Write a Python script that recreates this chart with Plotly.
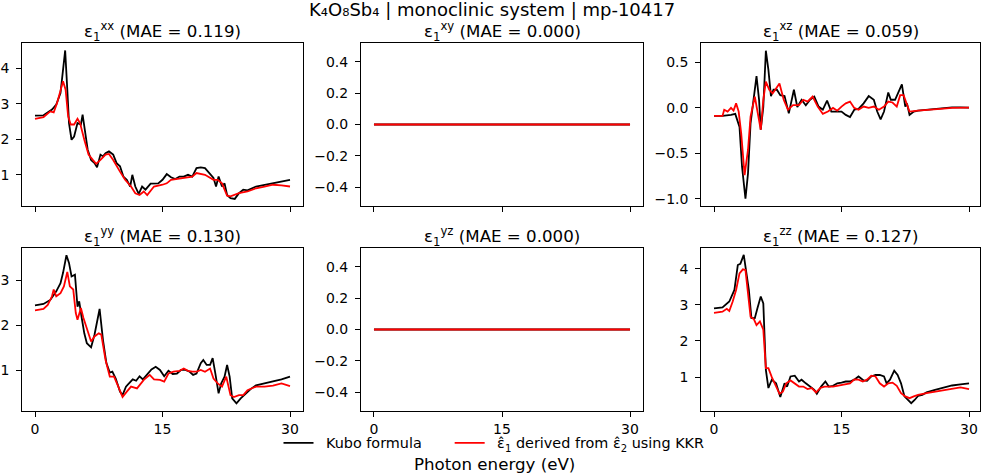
import plotly.graph_objects as go

W, H = 981, 476

# ---- eps_1^xx ----
E_xx_kubo = [0, 1, 2, 2.5, 3, 3.3, 3.55, 3.8, 4.0, 4.3, 4.6, 5.0, 5.4, 5.6, 5.9, 6.2, 6.6, 7.0, 7.3, 7.7,
             8.0, 8.3, 8.7, 9.2, 9.6, 10.0, 10.4, 10.8, 11.2, 11.45, 11.8, 12.2, 12.6, 13.0, 13.6, 14.5, 15.0,
             15.5, 16.0, 16.5, 17.0, 17.5, 18.0, 18.5, 19.0, 19.5, 20.0, 20.5, 21.0, 21.3, 21.6, 22.0, 22.3,
             22.6, 23.0, 23.5, 24.0, 24.5, 25.0, 26.0, 27.0, 28.0, 29.0, 30.0]
eps_xx_kubo = [2.67, 2.68, 2.84, 2.98, 3.31, 3.88, 4.51, 3.40, 2.46, 1.99, 2.08, 2.46, 2.42, 2.70, 2.18, 1.71,
               1.42, 1.33, 1.21, 1.57, 1.52, 1.61, 1.66, 1.57, 1.33, 1.24, 0.95, 0.86, 0.67, 1.00, 0.67, 0.46,
               0.67, 0.58, 0.75, 0.76, 0.86, 1.02, 0.93, 0.88, 0.95, 0.95, 1.00, 0.95, 1.19, 1.21, 1.19, 1.05,
               0.91, 0.67, 0.95, 0.67, 0.76, 0.43, 0.34, 0.32, 0.48, 0.58, 0.56, 0.67, 0.72, 0.78, 0.81, 0.86]
E_xx_kkr = [0, 1, 1.8, 2.2, 2.6, 3.0, 3.3, 3.6, 3.9, 4.2, 4.6, 5.0, 5.3, 5.8, 6.3, 6.8, 7.2, 7.7, 8.3, 8.7,
            9.2, 10.0, 10.6, 11.3, 11.8, 12.3, 12.8, 13.2, 14.0, 15.0, 15.5, 16.0, 17.0, 18.0, 18.5, 19.0,
            20.0, 21.0, 21.5, 22.0, 22.6, 23.0, 24.0, 25.0, 26.0, 27.0, 28.0, 29.0, 30.0]
eps_xx_kkr = [2.58, 2.63, 2.79, 2.76, 3.03, 3.40, 3.64, 3.40, 2.65, 2.42, 2.42, 2.58, 2.46, 1.99, 1.57, 1.42,
              1.31, 1.42, 1.57, 1.59, 1.42, 1.09, 0.86, 0.67, 0.48, 0.43, 0.53, 0.43, 0.67, 0.72, 0.76, 0.86,
              0.90, 0.93, 0.95, 1.05, 1.00, 0.86, 0.86, 0.76, 0.41, 0.39, 0.48, 0.53, 0.62, 0.67, 0.72, 0.70,
              0.67]

# ---- eps_1^xz ----
E_xz_kubo = [0, 1, 2, 2.5, 3, 3.3, 3.7, 4.0, 4.3, 4.6, 5.0, 5.3, 5.5, 5.8, 6.1, 6.4, 6.7, 7.0, 7.4, 7.8,
             8.3, 8.8, 9.4, 9.8, 10.3, 10.8, 11.3, 11.8, 12.3, 12.8, 13.3, 13.8, 14.5, 15.0, 15.5, 16.0,
             16.5, 17.0, 17.6, 18.2, 18.8, 19.2, 19.6, 20.0, 20.5, 20.8, 21.3, 21.8, 22.1, 22.5, 22.7, 23.0,
             23.5, 24, 25, 26, 27, 28, 29, 30]
eps_xz_kubo = [-0.088, -0.088, -0.077, -0.066, -0.21, -0.65, -1.00, -0.72, -0.17, 0.05, 0.35, 0.09, -0.24,
               0.01, 0.63, 0.42, 0.13, 0.20, 0.20, 0.14, 0.13, -0.06, 0.20, 0.01, 0.09, 0.03, 0.09, 0.125,
               0.015, -0.02, 0.08, -0.04, -0.04, -0.04, -0.077, -0.10, -0.02, -0.01, 0.05, 0.13, 0.09, -0.04,
               -0.125, -0.04, 0.17, 0.09, 0.09, 0.20, 0.26, 0.015, 0.05, -0.077, -0.04, -0.03, -0.02, -0.01,
               0.0, 0.007, 0.007, 0.004]
E_xz_kkr = [0, 1, 1.2, 1.6, 2.0, 2.3, 2.6, 2.9, 3.2, 3.6, 4.0, 4.3, 4.8, 5.2, 5.5, 5.8, 6.1, 6.5, 6.9, 7.2,
            7.7, 8.2, 8.7, 9.3, 10.0, 10.5, 11.0, 11.6, 12.2, 12.8, 13.4, 14.0, 14.5, 15.0, 15.5, 16.0, 16.5,
            17.0, 17.6, 18.2, 18.8, 19.4, 20.0, 20.5, 21.0, 21.5, 21.9, 22.3, 22.7, 23.0, 24, 25, 26, 27,
            28, 29, 30]
eps_xz_kkr = [-0.088, -0.088, -0.02, -0.04, 0.0, -0.03, 0.05, -0.04, -0.28, -0.74, -0.46, -0.096, 0.125,
              -0.096, -0.24, 0.09, 0.29, 0.20, 0.16, 0.20, 0.27, 0.09, -0.02, 0.03, 0.03, 0.09, 0.07, 0.125,
              0.015, -0.066, -0.04, 0.0, -0.03, 0.015, 0.05, 0.07, 0.0, -0.02, 0.015, 0.0, 0.015, -0.02,
              0.015, 0.07, 0.06, 0.015, 0.14, 0.14, 0.03, -0.04, -0.03, -0.02, -0.01, -0.007, 0.0, 0.004,
              0.004]

# ---- eps_1^yy ----
E_yy_kubo = [0, 1, 1.8, 2.5, 3.0, 3.3, 3.7, 4.0, 4.3, 4.7, 5.0, 5.2, 5.5, 5.8, 6.1, 6.6, 7.0, 7.4, 7.6, 8.0,
             8.4, 8.8, 9.1, 9.5, 10.0, 10.3, 10.7, 11.0, 11.5, 11.9, 12.3, 12.7, 13.2, 13.7, 14.2, 14.7,
             15.2, 15.7, 16.2, 16.7, 17.2, 17.7, 18.2, 18.6, 19.0, 19.5, 19.8, 20.2, 20.6, 20.9, 21.2, 21.6,
             21.9, 22.3, 22.6, 22.9, 23.2, 23.7, 24.2, 24.8, 25.4, 26, 27, 28, 29, 30]
eps_yy_kubo = [2.44, 2.47, 2.56, 2.75, 2.93, 3.16, 3.55, 3.38, 3.08, 3.12, 2.41, 2.53, 2.16, 1.82, 1.60, 1.51,
               1.79, 2.19, 2.36, 1.67, 1.16, 0.95, 0.97, 0.82, 0.53, 0.45, 0.64, 0.70, 0.80, 0.77, 0.87,
               0.80, 0.90, 1.02, 1.08, 1.01, 0.87, 0.99, 0.92, 0.93, 1.01, 1.01, 0.97, 0.90, 0.93, 1.16,
               1.23, 1.12, 1.12, 1.27, 0.95, 0.49, 0.71, 0.86, 1.12, 0.86, 0.38, 0.27, 0.38, 0.49, 0.59,
               0.67, 0.71, 0.75, 0.80, 0.86]
E_yy_kkr = [0, 1, 1.5, 2.0, 2.2, 2.5, 3.0, 3.4, 3.8, 4.1, 4.5, 4.8, 5.0, 5.4, 5.7, 6.1, 6.6, 7.0, 7.5, 7.8,
            8.3, 8.8, 9.3, 9.8, 10.3, 10.8, 11.3, 12.0, 12.8, 13.5, 14.0, 14.7, 15.2, 15.7, 16.3, 17.0,
            17.5, 18.0, 18.5, 19.0, 19.5, 20.0, 20.6, 21.0, 21.5, 22.0, 22.5, 23.0, 23.4, 24.0, 24.5, 25,
            26, 27, 28, 29, 30]
eps_yy_kkr = [2.33, 2.36, 2.45, 2.64, 2.79, 2.64, 2.71, 2.86, 3.18, 2.86, 2.79, 2.27, 2.12, 2.38, 2.16, 1.93,
              1.64, 1.75, 1.82, 1.79, 1.23, 0.86, 0.86, 0.64, 0.41, 0.53, 0.64, 0.60, 0.79, 0.90, 0.80,
              0.79, 0.75, 0.93, 0.97, 0.99, 1.04, 0.99, 0.97, 0.97, 1.01, 0.97, 1.04, 0.82, 0.71, 0.64,
              0.86, 0.45, 0.41, 0.45, 0.45, 0.56, 0.64, 0.64, 0.66, 0.71, 0.65]

# ---- eps_1^zz ----
E_zz_kubo = [0, 1, 1.8, 2.4, 2.8, 3.1, 3.5, 3.8, 4.1, 4.4, 4.8, 5.1, 5.5, 5.8, 6.1, 6.4, 6.8, 7.3, 7.6, 7.8,
             8.3, 8.6, 9.0, 9.5, 10.0, 10.3, 10.8, 11.3, 11.8, 12.1, 12.6, 13.1, 13.5, 14.0, 14.5, 15.0,
             15.5, 16.0, 16.5, 17.0, 17.6, 18.0, 18.5, 19.0, 19.5, 20.0, 20.3, 20.7, 21.2, 21.6, 22.0, 22.4,
             22.8, 23.2, 23.6, 24.0, 24.5, 25, 26, 27, 28, 29, 30]
eps_zz_kubo = [2.90, 2.93, 3.09, 3.41, 4.10, 4.13, 4.38, 3.87, 3.41, 2.63, 2.63, 2.90, 3.23, 3.04, 1.20, 0.70,
               0.93, 0.83, 0.56, 0.45, 0.83, 0.74, 1.02, 1.04, 0.88, 0.93, 0.83, 0.74, 0.65, 0.54, 0.74,
               0.88, 0.74, 0.76, 0.83, 0.85, 0.88, 0.88, 0.93, 1.02, 0.91, 0.90, 1.02, 1.06, 1.06, 1.02,
               0.83, 0.93, 1.18, 1.06, 0.83, 0.47, 0.37, 0.28, 0.37, 0.48, 0.51, 0.58, 0.65, 0.72, 0.77,
               0.80, 0.83]
E_zz_kkr = [0, 1, 1.5, 1.8, 2.2, 2.6, 3.0, 3.4, 3.7, 4.0, 4.3, 4.7, 5.0, 5.4, 5.8, 6.1, 6.4, 6.8, 7.3, 7.7,
            8.1, 8.5, 9.0, 9.5, 10.0, 10.5, 11.0, 11.5, 12.0, 12.5, 13.0, 14.0, 15.0, 16.0, 16.5, 17.0,
            17.5, 18.0, 18.5, 19.0, 19.5, 20.0, 20.5, 21.0, 21.5, 22.0, 22.5, 23.0, 23.5, 24, 25, 26, 27,
            28, 29, 30]
eps_zz_kkr = [2.78, 2.81, 2.89, 2.83, 3.09, 3.41, 3.87, 3.98, 3.96, 3.23, 2.67, 2.60, 2.44, 2.54, 2.31, 1.25,
              1.25, 1.00, 0.74, 0.54, 0.60, 0.83, 0.91, 0.83, 0.74, 0.74, 0.67, 0.70, 0.58, 0.70, 0.74,
              0.74, 0.79, 0.83, 0.94, 0.93, 0.88, 0.93, 1.04, 1.02, 0.83, 0.74, 0.83, 0.85, 0.76, 0.56,
              0.47, 0.42, 0.47, 0.51, 0.56, 0.60, 0.65, 0.70, 0.72, 0.67]

# ---- off-diagonal components that vanish ----
E_zero = [0, 30]
eps_xy_kubo = [0.0, 0.0]
eps_xy_kkr = [0.0, 0.0]
eps_yz_kubo = [0.0, 0.0]
eps_yz_kkr = [0.0, 0.0]

components = ["xx", "xy", "xz", "yy", "yz", "zz"]
mae_values = [0.119, 0.000, 0.059, 0.130, 0.000, 0.127]
x_ticks = [0, 15, 30]

series = {
    "xx": (E_xx_kubo, eps_xx_kubo, E_xx_kkr, eps_xx_kkr),
    "xy": (E_zero, eps_xy_kubo, E_zero, eps_xy_kkr),
    "xz": (E_xz_kubo, eps_xz_kubo, E_xz_kkr, eps_xz_kkr),
    "yy": (E_yy_kubo, eps_yy_kubo, E_yy_kkr, eps_yy_kkr),
    "yz": (E_zero, eps_yz_kubo, E_zero, eps_yz_kkr),
    "zz": (E_zz_kubo, eps_zz_kubo, E_zz_kkr, eps_zz_kkr),
}

# axis geometry (pixels)
col_px = [(22.25, 302.75, [-1.5, 31.5]), (361, 643, [-1.52, 31.52]), (701.25, 980, [-1.5, 31.29])]
row_px = [(43, 206), (248, 411)]
y_setup = {
    "xx": ([0.12, 4.72], [1, 2, 3, 4], ["1", "2", "3", "4"]),
    "xy": ([-0.52, 0.52], [-0.4, -0.2, 0, 0.2, 0.4], ["\u22120.4", "\u22120.2", "0.0", "0.2", "0.4"]),
    "xz": ([-1.08, 0.715], [-1.0, -0.5, 0, 0.5], ["\u22121.0", "\u22120.5", "0.0", "0.5"]),
    "yy": ([0.1, 3.71], [1, 2, 3], ["1", "2", "3"]),
    "yz": ([-0.52, 0.52], [-0.4, -0.2, 0, 0.2, 0.4], ["\u22120.4", "\u22120.2", "0.0", "0.2", "0.4"]),
    "zz": ([0.065, 4.57], [1, 2, 3, 4], ["1", "2", "3", "4"]),
}

FONT = "DejaVu Sans"
TITLE_SIZE = 16.67
LINE_W = 1.8


def py(px):
    """pixel row (from top) -> paper y"""
    return (H - px) / H


def label(text, x, y, size, xanchor="center", yanchor="middle"):
    return dict(text=text, x=x / W, y=py(y), xref="paper", yref="paper", xanchor=xanchor,
                yanchor=yanchor, showarrow=False, borderpad=0,
                font=dict(family=FONT, size=size, color="black"))


fig = go.Figure()
annotations = []
for i, comp in enumerate(components):
    r, c = divmod(i, 3)
    ax = "" if i == 0 else str(i + 1)
    x0, x1, xr = col_px[c]
    top, bot = row_px[r]
    ek, vk, er, vr = series[comp]
    fig.add_trace(go.Scatter(x=ek, y=vk, mode="lines", line=dict(color="black", width=LINE_W),
                             name="\u00a0\u2009Kubo formula" + "\u00a0" * 5, showlegend=(i == 0),
                             xaxis="x" + ax, yaxis="y" + ax))
    fig.add_trace(go.Scatter(x=er, y=vr, mode="lines", line=dict(color="red", width=LINE_W),
                             name="\u00a0\u2009\u03b5\u0302<sub>1</sub> derived from "
                                  "\u03b5\u0302<sub>2</sub> using KKR",
                             showlegend=(i == 0), xaxis="x" + ax, yaxis="y" + ax))
    yr, yt, ytt = y_setup[comp]
    common = dict(showgrid=False, zeroline=False, showline=True, mirror=True, linecolor="black",
                  linewidth=1, ticks="outside", ticklen=5, tickwidth=1, tickcolor="black",
                  tickfont=dict(family=FONT, size=14, color="black"))
    fig.update_layout(**{
        "xaxis" + ax: dict(domain=[x0 / W, x1 / W], range=xr, anchor="y" + ax,
                           tickvals=x_ticks, ticktext=[str(t) for t in x_ticks],
                           showticklabels=(r == 1), **common),
        "yaxis" + ax: dict(domain=[(H - bot) / H, (H - top) / H], range=yr, anchor="x" + ax,
                           tickvals=yt, ticktext=ytt, ticklabelstandoff=4, **common),
    })

    # panel title, baseline about 5.5 px above the frame
    cx = (x0 + x1) / 2
    annotations.append(label("\u03b5<sub>1</sub><sup>%s</sup> (MAE = %.3f)" % (comp, mae_values[i]),
                             cx, top - 5.5 - 5.8, TITLE_SIZE))

annotations.append(label("K\u2084O\u2088Sb\u2084 | monoclinic system | mp-10417", 492, 9.8, 18))
annotations.append(label("Photon energy (eV)", 494, 464, 16.67))

fig.update_layout(
    width=W, height=H, margin=dict(l=0, r=0, t=0, b=0),
    paper_bgcolor="white", plot_bgcolor="white",
    annotations=annotations,
    legend=dict(orientation="h", x=494 / W, y=py(443), xanchor="center", yanchor="middle",
                font=dict(family=FONT, size=14.4, color="black"), bgcolor="rgba(0,0,0,0)",
                tracegroupgap=0),
)

fig.write_html("out.html")
